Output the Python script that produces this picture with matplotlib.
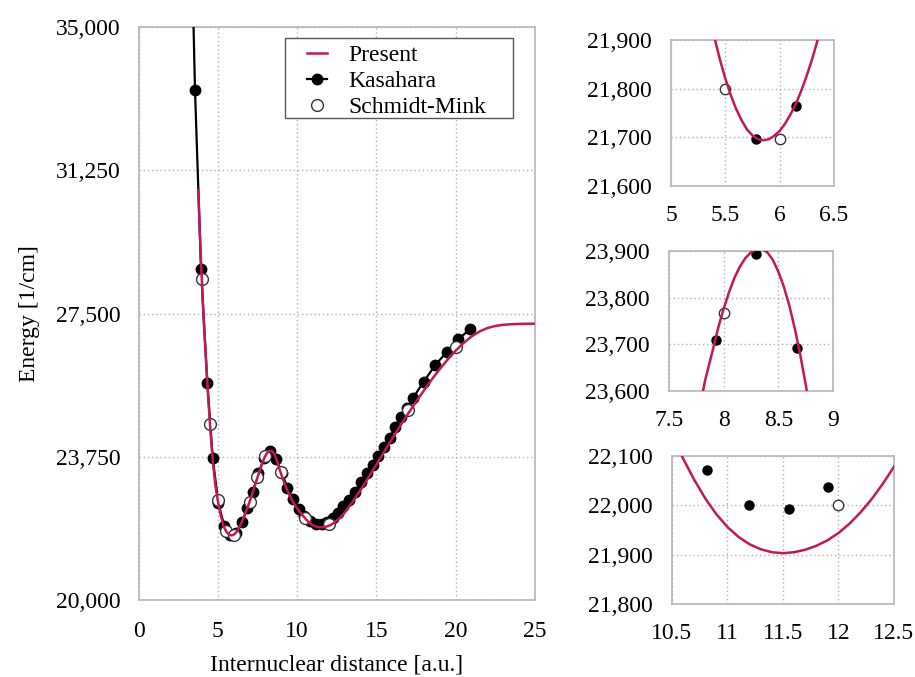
import matplotlib
matplotlib.use("Agg")
import matplotlib.pyplot as plt
from matplotlib.ticker import FuncFormatter
from matplotlib.lines import Line2D
from matplotlib.patches import Rectangle
from matplotlib.legend_handler import HandlerLine2D

plt.rcParams['font.family'] = ['Liberation Serif', 'DejaVu Serif']

# Present potential curve
present_r = [3.77, 3.85, 3.95, 4.1, 4.25, 4.4, 4.55, 4.7, 4.85, 5.0, 5.1, 5.2, 5.3,
             5.35, 5.4, 5.45, 5.5, 5.55, 5.6, 5.65, 5.7, 5.75, 5.8, 5.85, 5.9, 5.95,
             6.0, 6.05, 6.1, 6.15, 6.2, 6.25, 6.3, 6.35, 6.5, 6.75, 7.0, 7.25, 7.5,
             7.7, 7.83, 7.9, 7.95, 8.0, 8.05, 8.1, 8.15, 8.2, 8.25, 8.3, 8.35, 8.4,
             8.45, 8.5, 8.55, 8.6, 8.65, 8.7, 8.75, 8.8, 8.85, 9.0, 9.25, 9.5, 9.75,
             10.0, 10.25, 10.5, 10.6, 10.7, 10.8, 10.9, 11.0, 11.1, 11.2, 11.3, 11.4,
             11.5, 11.6, 11.7, 11.8, 11.9, 12.0, 12.1, 12.2, 12.3, 12.4, 12.5, 12.75,
             13.0, 13.5, 14.0, 14.5, 15.0, 15.5, 16.0, 16.5, 17.0, 17.5, 18.0, 18.5,
             19.0, 19.5, 20.0, 20.5, 21.0, 21.5, 22.0, 22.5, 23.0, 23.5, 24.0, 25.0]
present_e = [30730, 29800, 28750, 27400, 26300, 25250, 24330, 23550, 22990, 22600,
             22380, 22190, 22030, 21960, 21905, 21860, 21821, 21787, 21758, 21735,
             21716, 21704, 21696, 21694, 21696, 21703, 21713, 21728, 21747, 21769,
             21796, 21827, 21861, 21900, 22032, 22282, 22570, 22882, 23207, 23463,
             23622, 23687, 23735, 23776, 23812, 23843, 23867, 23885, 23897, 23904,
             23904, 23897, 23881, 23856, 23824, 23784, 23735, 23679, 23615, 23545,
             23470, 23290, 23000, 22760, 22560, 22400, 22265, 22142, 22095, 22052,
             22014, 21982, 21956, 21936, 21921, 21911, 21905, 21903, 21905, 21910,
             21918, 21929, 21944, 21963, 21986, 22013, 22044, 22078, 22170, 22290,
             22570, 22880, 23210, 23550, 23890, 24230, 24560, 24880, 25190, 25490,
             25780, 26050, 26300, 26530, 26730, 26900, 27030, 27120, 27175, 27205,
             27220, 27228, 27235]

# Kasahara
kas_r = [3.18, 3.56, 3.94, 4.34, 4.68, 5.03, 5.40, 5.78, 6.15, 6.52, 6.85, 7.20,
         7.55, 7.93, 8.30, 8.67, 9.03, 9.39, 9.75, 10.10, 10.46, 10.82, 11.19, 11.55,
         11.91, 12.25, 12.58, 12.91, 13.30, 13.68, 14.05, 14.41, 14.77, 15.12, 15.46,
         15.84, 16.17, 16.53, 16.91, 17.29, 17.98, 18.69, 19.45, 20.16, 20.90]
kas_e = [40300, 33350, 28665, 25673, 23710, 22540, 21950, 21697, 21765, 22030,
         22400, 22836, 23316, 23710, 23893, 23693, 23330, 22930, 22640, 22390,
         22200, 22072, 22001, 21993, 22037, 22150, 22280, 22450, 22630, 22836,
         23085, 23316, 23534, 23765, 24000, 24233, 24537, 24799, 25018, 25280,
         25715, 26140, 26500, 26825, 27090]

# Schmidt-Mink
sm_r = [4.0, 4.5, 5.0, 5.5, 6.0, 7.0, 7.5, 8.0, 9.0, 10.5, 12.0, 17.0, 20.0]
sm_e = [28400, 24600, 22620, 21800, 21697, 22575, 23230, 23766, 23360, 22140,
        22000, 24974, 26630]

pink = '#c2185b'
fs = 17
comma = FuncFormatter(lambda v, p: '{:,.0f}'.format(v))
num = FuncFormatter(lambda v, p: '{:g}'.format(v))


class ShortLine(HandlerLine2D):
    # legend handle drawn shorter and centred in its slot
    def create_artists(self, legend, orig_handle, xdescent, ydescent, width,
                       height, fontsize, trans):
        frac = 0.32
        return super().create_artists(legend, orig_handle,
                                      xdescent - width * (1 - frac) / 2, ydescent,
                                      width * frac, height, fontsize, trans)


def style(ax, pad):
    for s in ax.spines.values():
        s.set_color('#b5b5b5')
        s.set_linewidth(1.2)
    ax.grid(True, color='#b0b0b0', linestyle=(0, (1, 2)), linewidth=1)
    ax.tick_params(length=0, labelsize=fs, pad=pad)
    ax.set_axisbelow(True)


fig = plt.figure(figsize=(9.15, 6.77), dpi=100)

# main panel
ax = fig.add_axes([0.1514, 0.1137, 0.4333, 0.8464])
ax.plot(kas_r, kas_e, '-o', color='black', lw=1.6, ms=7.5, label='Kasahara', zorder=3)
ax.plot(sm_r, sm_e, 'o', mfc='white', mec='#333333', mew=1.0, ms=8.5,
        label='Schmidt-Mink', zorder=4)
ax.plot(present_r, present_e, color=pink, lw=1.8, label='Present', zorder=5)
ax.set_xlim(0, 25)
ax.set_ylim(20000, 35000)
ax.set_xticks([0, 5, 10, 15, 20, 25])
ax.set_yticks([20000, 23750, 27500, 31250, 35000])
ax.yaxis.set_major_formatter(comma)
style(ax, 13)
ax.tick_params(axis='x', pad=15)
ax.set_xlabel('Internuclear distance [a.u.]', fontsize=17, labelpad=9)
ax.set_ylabel('Energy [1/cm]', fontsize=17, labelpad=11)

# legend box is wider than the entries, so draw the frame separately
ax.add_patch(Rectangle((0.3695, 0.8412), 0.575, 0.1396, transform=ax.transAxes,
                       facecolor='white', edgecolor='#555555', lw=1.0, zorder=6))
h, l = ax.get_legend_handles_labels()
order = [2, 0, 1]
leg = ax.legend([h[i] for i in order], [l[i] for i in order], loc='upper left',
                bbox_to_anchor=(0.3624, 0.9747), borderaxespad=0, fontsize=fs,
                frameon=False, handlelength=2.65, borderpad=0.14,
                labelspacing=0.19, handletextpad=0.0,
                handler_map={Line2D: ShortLine()})
leg.set_zorder(7)

# insets
insets = [
    ([0.7333, 0.7253, 0.1781, 0.2157], (5, 6.5), (21600, 21900),
     [5, 5.5, 6, 6.5], [21600, 21700, 21800, 21900]),
    ([0.7311, 0.4225, 0.1792, 0.2068], (7.5, 9), (23600, 23900),
     [7.5, 8, 8.5, 9], [23600, 23700, 23800, 23900]),
    ([0.7344, 0.1078, 0.2426, 0.2186], (10.5, 12.5), (21800, 22100),
     [10.5, 11, 11.5, 12, 12.5], [21800, 21900, 22000, 22100]),
]
for rect, xl, yl, xt, yt in insets:
    a = fig.add_axes(rect)
    a.plot(kas_r, kas_e, 'o', color='black', ms=6.5, zorder=3)
    a.plot(sm_r, sm_e, 'o', mfc='white', mec='#333333', mew=1.0, ms=7.5, zorder=4)
    a.plot(present_r, present_e, color=pink, lw=1.8, zorder=5)
    a.set_xlim(*xl)
    a.set_ylim(*yl)
    a.set_xticks(xt)
    a.set_yticks(yt)
    a.xaxis.set_major_formatter(num)
    a.yaxis.set_major_formatter(comma)
    style(a, 14)

fig.savefig('out.png', dpi=100)
